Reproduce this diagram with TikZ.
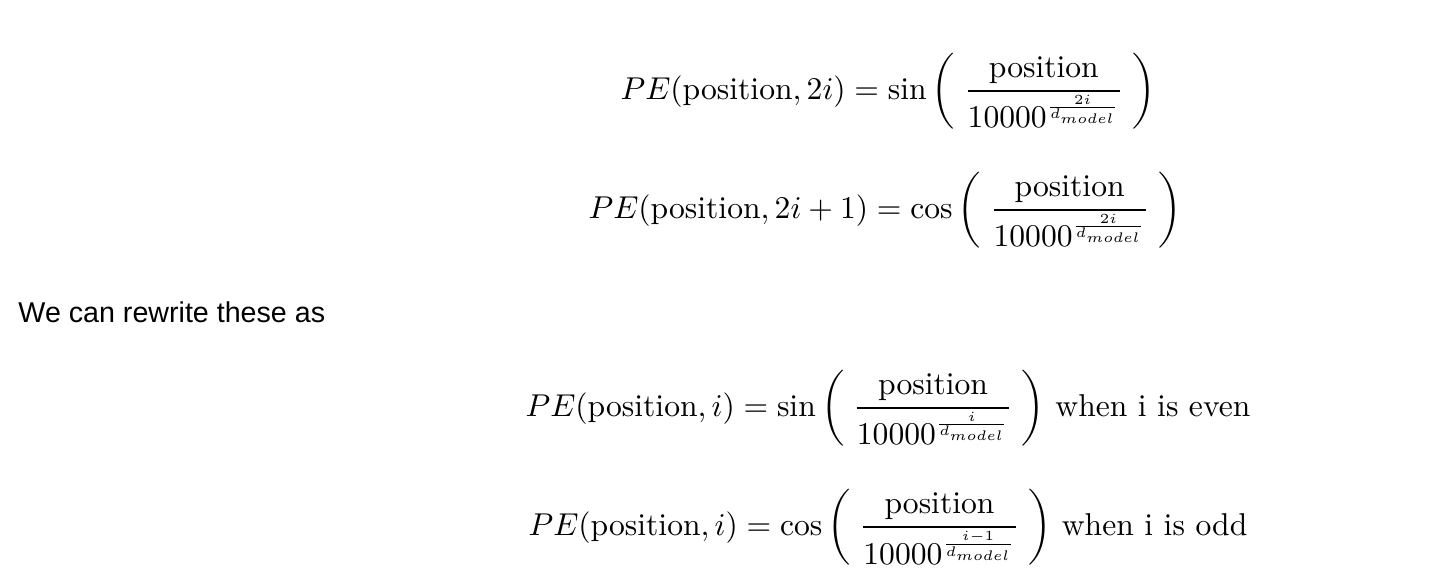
\documentclass[tikz,border=0pt]{standalone}
\usepackage{amsmath}
\usepackage{graphicx}
\usepackage{fontspec}
\newfontfamily\uifont{Liberation Sans}
\newcommand\expfrac[2]{\scalebox{0.88}{$\scriptstyle\frac{#1}{#2}$}}
\begin{document}
\begin{tikzpicture}[x=0.01424cm,y=-0.01424cm,
  eq/.style={anchor=base west,inner sep=0pt,scale=1.28,transform shape},
  txt/.style={anchor=base west,inner sep=0pt,font=\uifont\fontsize{11.6}{13}\selectfont}]
\useasboundingbox (0,0) rectangle (1448,586);
\node[eq] (e1) at (620,99) {$\displaystyle PE(\text{position}, 2i) = \sin\left(\;\frac{\text{position}}{10000^{\expfrac{2i}{d_{model}}}}\;\right)$};
\node[eq] (e2) at (588,218) {$\displaystyle PE(\text{position}, 2i+1) = \cos\left(\;\frac{\text{position}}{10000^{\expfrac{2i}{d_{model}}}}\;\right)$};
\node[txt] (t) at (18,322) {We can rewrite these as};
\node[eq] (e3) at (525,416) {$\displaystyle PE(\text{position}, i) = \sin\left(\;\frac{\text{position}}{10000^{\expfrac{i}{d_{model}}}}\;\right)\,\text{when i is even}$};
\node[eq] (e4) at (528,535) {$\displaystyle PE(\text{position}, i) = \cos\left(\;\frac{\text{position}}{10000^{\expfrac{i-1}{d_{model}}}}\;\right)\,\text{when i is odd}$};
\end{tikzpicture}
\end{document}
